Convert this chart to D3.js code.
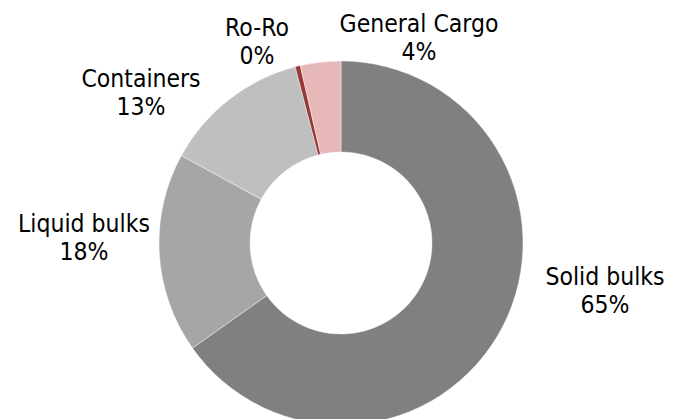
<!DOCTYPE html>
<html>
<head>
<meta charset="utf-8">
<script src="https://cdn.jsdelivr.net/npm/d3@7"></script>
<style>
  html, body { margin: 0; padding: 0; background: #fff; }
  svg { display: block; }
  text { font-family: "DejaVu Sans Condensed", "DejaVu Sans", sans-serif; font-stretch: condensed; font-size: 24.5px; fill: #000; }
</style>
</head>
<body>
<svg id="chart" width="673" height="419"></svg>
<script>
// Data
const categories = ["Solid bulks", "Liquid bulks", "Containers", "Ro-Ro", "General Cargo"];
const shares = [65.3, 17.8, 13.0, 0.45, 3.6];
const colors = ["#808080", "#a6a6a6", "#bfbfbf", "#953735", "#e6b9b8"];

// Label layout (anchor centre x, first baseline y)
const labelX = [605, 84, 141, 257, 419];
const labelY = [285, 232, 87, 36, 32];
const lineGap = 28;

const W = 673, H = 419;
const cx = 341, cy = 243, outerR = 182, innerR = 91;

const svg = d3.select("#chart");
const g = svg.append("g").attr("transform", `translate(${cx},${cy})`);

const total = d3.sum(shares);
const data = categories.map((c, i) => ({ name: c, value: shares[i], color: colors[i] }));

const pie = d3.pie().value(d => d.value).sort(null).startAngle(0).endAngle(2 * Math.PI);
const arc = d3.arc().innerRadius(innerR).outerRadius(outerR);

g.selectAll("path.slice")
  .data(pie(data))
  .join("path")
  .attr("class", "slice")
  .attr("d", arc)
  .attr("fill", d => d.data.color)
  .attr("stroke", "#ffffff")
  .attr("stroke-width", 0.4);

const fmt = v => Math.round(v / total * 100) + "%";

const labels = svg.selectAll("g.label")
  .data(data)
  .join("g")
  .attr("class", "label");

labels.append("text")
  .attr("x", (d, i) => labelX[i])
  .attr("y", (d, i) => labelY[i])
  .attr("text-anchor", "middle")
  .text(d => d.name);

labels.append("text")
  .attr("x", (d, i) => labelX[i])
  .attr("y", (d, i) => labelY[i] + lineGap)
  .attr("text-anchor", "middle")
  .text(d => fmt(d.value));
</script>
</body>
</html>
